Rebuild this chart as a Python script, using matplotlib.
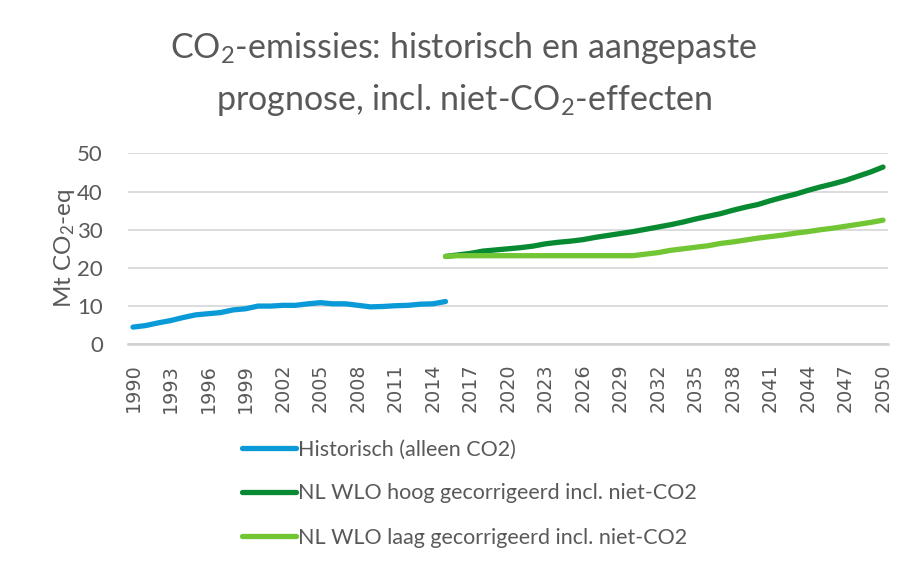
import matplotlib.pyplot as plt

# fonts: Lato stands in for Calibri
plt.rcParams['font.family'] = ['Lato', 'DejaVu Sans']
plt.rcParams['mathtext.fontset'] = 'custom'
plt.rcParams['mathtext.rm'] = 'Lato'
plt.rcParams['mathtext.it'] = 'Lato:italic'

# data
years_hist = list(range(1990, 2016))
hist = [4.5, 4.9, 5.6, 6.2, 7.0, 7.7, 8.0, 8.3, 9.0, 9.3,
        10.0, 10.0, 10.2, 10.2, 10.6, 10.9, 10.6, 10.6, 10.2, 9.8,
        9.9, 10.1, 10.2, 10.5, 10.6, 11.2]

years_proj = list(range(2015, 2051))
hoog = [23.0, 23.4, 23.8, 24.4, 24.7, 25.0, 25.3, 25.7, 26.3, 26.7,
        27.0, 27.4, 28.0, 28.5, 29.0, 29.5, 30.1, 30.7, 31.3, 32.0,
        32.8, 33.5, 34.2, 35.1, 35.9, 36.6, 37.6, 38.5, 39.3, 40.3,
        41.2, 42.0, 42.9, 44.0, 45.1, 46.4]
laag = [23.0, 23.2, 23.2, 23.2, 23.2, 23.2, 23.2, 23.2, 23.2, 23.2,
        23.2, 23.2, 23.2, 23.2, 23.2, 23.2, 23.6, 24.0, 24.6, 25.0,
        25.4, 25.8, 26.4, 26.8, 27.3, 27.8, 28.2, 28.6, 29.1, 29.5,
        30.0, 30.4, 30.9, 31.4, 31.9, 32.5]

labels = ['Historisch (alleen CO2)',
          'NL WLO hoog gecorrigeerd incl. niet-CO2',
          'NL WLO laag gecorrigeerd incl. niet-CO2']
colors = ['#0a9ad8', '#078a32', '#72c634']
tick_years = list(range(1990, 2051, 3))

grey = '#595959'

fig = plt.figure(figsize=(9.05, 5.65), dpi=100)
ax = fig.add_axes([128 / 905, 1 - 344.3 / 565, (888 - 128) / 905, 191 / 565])

ax.plot(years_hist, hist, color=colors[0], lw=3.8, solid_capstyle='round', label=labels[0])
ax.plot(years_proj, hoog, color=colors[1], lw=3.8, solid_capstyle='round', label=labels[1])
ax.plot(years_proj, laag, color=colors[2], lw=3.8, solid_capstyle='round', label=labels[2])

ax.set_xlim(1989.6, 2050.4)
ax.set_ylim(0, 50)
ax.set_yticks(range(0, 51, 10))
ax.set_xticks(tick_years)
ax.set_xticklabels([str(y) for y in tick_years], rotation=90,
                   family='DejaVu Sans', fontsize=13.8, color=grey)
ax.tick_params(axis='y', labelsize=16, labelcolor=grey, length=0, pad=18)
ax.tick_params(axis='x', length=0, pad=14)
ax.grid(axis='y', color='#d9d9d9', lw=1.3)
ax.set_axisbelow(True)
for s in ['top', 'right', 'left']:
    ax.spines[s].set_visible(False)
ax.spines['bottom'].set_color('#d0d0d0')
ax.spines['bottom'].set_linewidth(1.8)

ax.set_ylabel('Mt CO$_2$-eq', fontsize=17.5, color=grey, labelpad=0)

fig.text(464 / 905, 1 - 48 / 565, 'CO$_2$-emissies: historisch en aangepaste',
         ha='center', va='center', fontsize=24.5, color=grey)
fig.text(464 / 905, 1 - 100 / 565, 'prognose, incl. niet-CO$_2$-effecten',
         ha='center', va='center', fontsize=24.5, color=grey)

fig.legend(loc='upper left', bbox_to_anchor=(223 / 905, 1 - 420 / 565),
           frameon=False, fontsize=15.5, labelcolor=grey, handlelength=2.5,
           handletextpad=0.1, labelspacing=1.12)

fig.savefig('out.png', dpi=100)
